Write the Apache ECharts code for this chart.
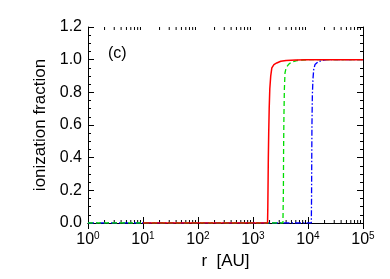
<!DOCTYPE html>
<html><head><meta charset="utf-8">
<script src="https://cdn.jsdelivr.net/npm/echarts@6/dist/echarts.min.js"></script>
<style>html,body{margin:0;padding:0;background:#fff}#c{width:390px;height:279px}</style>
</head><body><div id="c"></div>
<script>
// Data
const redR   = [10, 1000, 1840, 1860, 1880, 1900, 1930, 1970, 2020, 2100, 2200, 2400, 2700, 3200, 4000, 6000, 10000, 100000];
const redF   = [0, 0, 0, 0.10, 0.25, 0.40, 0.55, 0.70, 0.82, 0.90, 0.95, 0.97, 0.98, 0.99, 0.995, 0.998, 1.0, 1.0];
const greenR = [1, 3500, 3540, 3570, 3600, 3650, 3720, 3820, 4000, 4400, 5000, 6500, 9500, 100000];
const greenF = [0, 0, 0, 0.20, 0.45, 0.65, 0.82, 0.92, 0.95, 0.97, 0.985, 0.995, 1.0, 1.0];
const blueR  = [1, 11500, 11600, 11700, 11800, 12000, 12300, 12700, 13400, 15000, 18000, 22000, 100000];
const blueF  = [0, 0, 0.15, 0.40, 0.60, 0.78, 0.88, 0.94, 0.97, 0.985, 0.995, 1.0, 1.0];
const yTicks = [0.0, 0.2, 0.4, 0.6, 0.8, 1.0, 1.2];
const xDecades = [0, 1, 2, 3, 4, 5];
const panelLabel = '(c)';

const zip = (a, b) => a.map((v, i) => [v, b[i]]);
const minorX = [];
for (let i = 0; i < xDecades.length - 1; i++) for (let k = 2; k <= 9; k++) minorX.push(k * Math.pow(10, xDecades[i]));

const FONT = 'Liberation Sans, Arial, Helvetica, sans-serif';
const chart = echarts.init(document.getElementById('c'), null, {renderer: 'canvas'});
const tickStyle = {color: '#000', width: 1};
const xLabel = {
  fontFamily: FONT, color: '#000', margin: 8,
  formatter: v => '{b|10}{s|' + Math.round(Math.log10(v)) + '}',
  rich: {b: {fontSize: 16, fontFamily: FONT, color: '#000'}, s: {fontSize: 10, fontFamily: FONT, color: '#000', padding: [0, 0, 8, 0]}}
};
const minorTickSeries = (pos) => ({
  type: 'custom', xAxisIndex: 0, yAxisIndex: 0, silent: true, z: 1,
  data: minorX.map(v => [v, 0]),
  renderItem: (params, api) => {
    const v = api.value(0);
    const pb = api.coord([v, 0]);
    const pt = api.coord([v, 1.2]);
    const y0 = pos === 'bottom' ? pb[1] : pt[1];
    const y1 = pos === 'bottom' ? y0 - 3 : y0 + 3;
    return {type: 'line', shape: {x1: pb[0], y1: y0, x2: pb[0], y2: y1}, style: {stroke: '#000', lineWidth: 1}};
  }
});

chart.setOption({
  animation: false,
  grid: {left: 88, right: 27, top: 27, bottom: 56},
  xAxis: [
    {type: 'log', logBase: 10, min: 1, max: 100000, position: 'bottom',
     axisLine: {show: true, lineStyle: {color: '#000', width: 1}},
     axisTick: {show: true, inside: true, length: 6, lineStyle: tickStyle},
     splitLine: {show: false},
     axisLabel: xLabel,
     name: 'r  [AU]', nameLocation: 'middle', nameGap: 30,
     nameTextStyle: {fontFamily: FONT, fontSize: 17, color: '#000'}},
    {type: 'log', logBase: 10, min: 1, max: 100000, position: 'top',
     axisLine: {show: true, lineStyle: {color: '#000', width: 1}},
     axisTick: {show: true, inside: true, length: 6, lineStyle: tickStyle},
     splitLine: {show: false}, axisLabel: {show: false}}
  ],
  yAxis: [
    {type: 'value', min: 0, max: 1.2, interval: 0.2, position: 'left',
     axisLine: {show: true, lineStyle: {color: '#000', width: 1}},
     axisTick: {show: true, inside: true, length: 6, lineStyle: tickStyle},
     minorTick: {show: true, splitNumber: 4, length: 3, lineStyle: tickStyle},
     splitLine: {show: false},
     axisLabel: {fontFamily: FONT, fontSize: 16, color: '#000', margin: 6,
       formatter: v => yTicks.find(t => Math.abs(t - v) < 1e-9).toFixed(1)},
     name: 'ionization fraction', nameLocation: 'middle', nameGap: 39,
     nameTextStyle: {fontFamily: FONT, fontSize: 17, color: '#000'}},
    {type: 'value', min: 0, max: 1.2, interval: 0.2, position: 'right',
     axisLine: {show: true, lineStyle: {color: '#000', width: 1}},
     axisTick: {show: true, inside: true, length: 6, lineStyle: tickStyle},
     minorTick: {show: true, splitNumber: 4, length: 3, lineStyle: tickStyle},
     splitLine: {show: false}, axisLabel: {show: false}}
  ],
  graphic: [{type: 'text', left: 108, top: 46,
    style: {text: panelLabel, fontFamily: FONT, fontSize: 16, fill: '#000'}}],
  series: [
    minorTickSeries('bottom'), minorTickSeries('top'),
    {type: 'line', name: 'blue', data: zip(blueR, blueF), showSymbol: false, z: 3,
     lineStyle: {color: '#0000ff', width: 1.3, type: [6, 2, 1.5, 2]}},
    {type: 'line', name: 'green', data: zip(greenR, greenF), showSymbol: false, z: 4,
     lineStyle: {color: '#00dd00', width: 1.3, type: [5, 3]}},
    {type: 'line', name: 'red', data: zip(redR, redF), showSymbol: false, z: 5,
     lineStyle: {color: '#ff0000', width: 1.5}}
  ]
});
</script></body></html>
